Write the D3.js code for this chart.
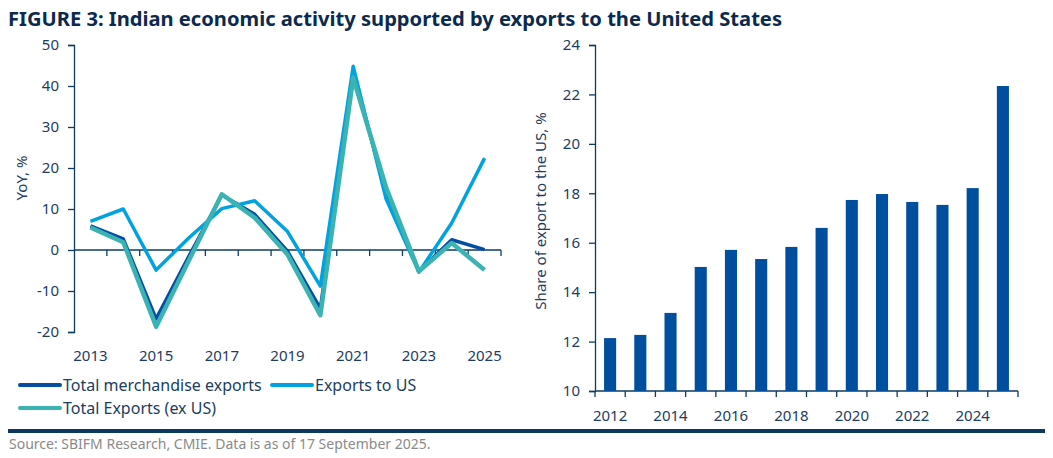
<!DOCTYPE html>
<html><head><meta charset="utf-8">
<script src="https://cdn.jsdelivr.net/npm/d3@7"></script>
<style>
html,body{margin:0;padding:0;background:#fff;}
svg{display:block;font-family:"Noto Sans","Open Sans",sans-serif;}
</style></head>
<body><svg id="c" width="1053" height="458"></svg>
<script>
// ---- data ----
const lineYears = [2013,2014,2015,2016,2017,2018,2019,2020,2021,2022,2023,2024,2025];
const totalMerch = [5.9,2.7,-16.8,-1.5,13.4,8.7,-0.3,-14.3,43.2,14.0,-5.2,2.5,0.1];
const exportsUS  = [7.0,10.0,-4.9,3.0,10.1,12.0,4.5,-8.8,44.8,12.5,-5.4,6.6,22.4];
const exportsExUS= [5.5,1.9,-18.7,-2.5,13.6,7.9,-1.1,-15.9,42.0,15.3,-5.2,1.7,-4.9];
const leftTicks = [-20,-10,0,10,20,30,40,50];
const leftLabelYears = [2013,2015,2017,2019,2021,2023,2025];

const barYears = [2012,2013,2014,2015,2016,2017,2018,2019,2020,2021,2022,2023,2024,2025];
const shareUS = [12.14,12.27,13.16,15.02,15.71,15.34,15.83,16.60,17.73,17.97,17.65,17.53,18.21,22.34];
const rightTicks = [10,12,14,16,18,20,22,24];
const rightLabelYears = [2012,2014,2016,2018,2020,2022,2024];

const series = [
  {name:"Total merchandise exports", values: totalMerch, color:"#034ea2", w:3.5},
  {name:"Exports to US", values: exportsUS, color:"#00a3e0", w:3.5},
  {name:"Total Exports (ex US)", values: exportsExUS, color:"#3bb3b3", w:4.5}
];

const navy = "#0d3b62";
const txt = "#1c3d5e";
const svg = d3.select("#c");

// title
svg.append("text").attr("x",8).attr("y",26).attr("font-size",20).attr("font-weight","bold")
  .attr("fill","#0b2a4e").attr("textLength",774).attr("lengthAdjust","spacingAndGlyphs")
  .text("FIGURE 3: Indian economic activity supported by exports to the United States");

// ---- left chart ----
const xL = d3.scaleBand().domain(lineYears).range([74,501]).padding(0);
const yL = d3.scaleLinear().domain([-20,50]).range([332,45]);

const gyL = svg.append("g").attr("transform","translate(74,0)")
  .call(d3.axisLeft(yL).tickValues(leftTicks).tickSize(6).tickPadding(9).tickFormat(d=>String(d)));
gyL.select(".domain").attr("stroke",navy).attr("stroke-width",1.3);
gyL.selectAll(".tick line").attr("stroke",navy).attr("stroke-width",1.3);
gyL.selectAll("text").attr("fill",txt).attr("font-size",15).attr("font-family","Noto Sans");

// zero axis with boundary ticks
const gx0 = svg.append("g");
gx0.append("line").attr("x1",74).attr("x2",501).attr("y1",yL(0)).attr("y2",yL(0))
  .attr("stroke",navy).attr("stroke-width",1.3);
const bounds = lineYears.map(d=>xL(d)).concat([xL(lineYears[lineYears.length-1])+xL.bandwidth()]);
gx0.selectAll("line.t").data(bounds.slice(1)).join("line").attr("class","t")
  .attr("x1",d=>d).attr("x2",d=>d).attr("y1",yL(0)).attr("y2",yL(0)+6)
  .attr("stroke",navy).attr("stroke-width",1.3);

// bottom labels
svg.append("g").selectAll("text").data(leftLabelYears).join("text")
  .attr("x",d=>xL(d)+xL.bandwidth()/2).attr("y",361).attr("text-anchor","middle")
  .attr("font-size",15).attr("fill",txt).text(d=>d);

svg.append("text").attr("transform","translate(27,178) rotate(-90)").attr("text-anchor","middle")
  .attr("font-size",15).attr("fill",txt).text("YoY, %");

const line = d3.line().x((d,i)=>xL(lineYears[i])+xL.bandwidth()/2).y(d=>yL(d));
series.forEach(s=>{
  svg.append("path").datum(s.values).attr("d",line).attr("fill","none")
    .attr("stroke",s.color).attr("stroke-width",s.w).attr("stroke-linejoin","round");
});

// legend
const leg = [
  {s:series[0], x:20, y:385},
  {s:series[1], x:272, y:385},
  {s:series[2], x:20, y:408}
];
leg.forEach(l=>{
  svg.append("line").attr("x1",l.x).attr("x2",l.x+40).attr("y1",l.y).attr("y2",l.y)
    .attr("stroke",l.s.color).attr("stroke-width",4).attr("stroke-linecap","round");
  svg.append("text").attr("x",l.x+43).attr("y",l.y+5.5).attr("font-size",16).attr("fill",txt).text(l.s.name);
});

// ---- right chart ----
const xR = d3.scaleBand().domain(barYears).range([595,1018]).paddingInner(0.6).paddingOuter(0.3);
const yR = d3.scaleLinear().domain([10,24]).range([391,45]);

const gyR = svg.append("g").attr("transform","translate(595,0)")
  .call(d3.axisLeft(yR).tickValues(rightTicks).tickSize(6).tickPadding(9));
gyR.select(".domain").attr("stroke",navy).attr("stroke-width",1.3);
gyR.selectAll(".tick line").attr("stroke",navy).attr("stroke-width",1.3);
gyR.selectAll("text").attr("fill",txt).attr("font-size",15).attr("font-family","Noto Sans");

svg.append("line").attr("x1",595).attr("x2",1018).attr("y1",391).attr("y2",391)
  .attr("stroke",navy).attr("stroke-width",1.3);
const step = xR.step();
const rb = barYears.map(d=>xR(d)-(step-xR.bandwidth())/2);
const rBounds = rb.concat([rb[rb.length-1]+step]);
svg.append("g").selectAll("line").data(rBounds).join("line")
  .attr("x1",d=>d).attr("x2",d=>d).attr("y1",391).attr("y2",397)
  .attr("stroke",navy).attr("stroke-width",1.3);

svg.append("g").selectAll("rect").data(barYears).join("rect")
  .attr("x",d=>xR(d)).attr("width",xR.bandwidth())
  .attr("y",(d,i)=>yR(shareUS[i])).attr("height",(d,i)=>yR(10)-yR(shareUS[i]))
  .attr("fill","#004f9e");

svg.append("g").selectAll("text").data(rightLabelYears).join("text")
  .attr("x",d=>xR(d)+xR.bandwidth()/2).attr("y",421).attr("text-anchor","middle")
  .attr("font-size",15).attr("fill",txt).text(d=>d);

svg.append("text").attr("transform","translate(546,211) rotate(-90)").attr("text-anchor","middle")
  .attr("font-size",15).attr("fill",txt).text("Share of export to the US, %");

// footer
svg.append("rect").attr("x",8).attr("y",429).attr("width",1037).attr("height",4).attr("fill","#0c3a5e");
svg.append("text").attr("x",9).attr("y",449).attr("font-size",14).attr("fill","#8a8a8a")
  .text("Source: SBIFM Research, CMIE. Data is as of 17 September 2025.");
</script></body></html>
